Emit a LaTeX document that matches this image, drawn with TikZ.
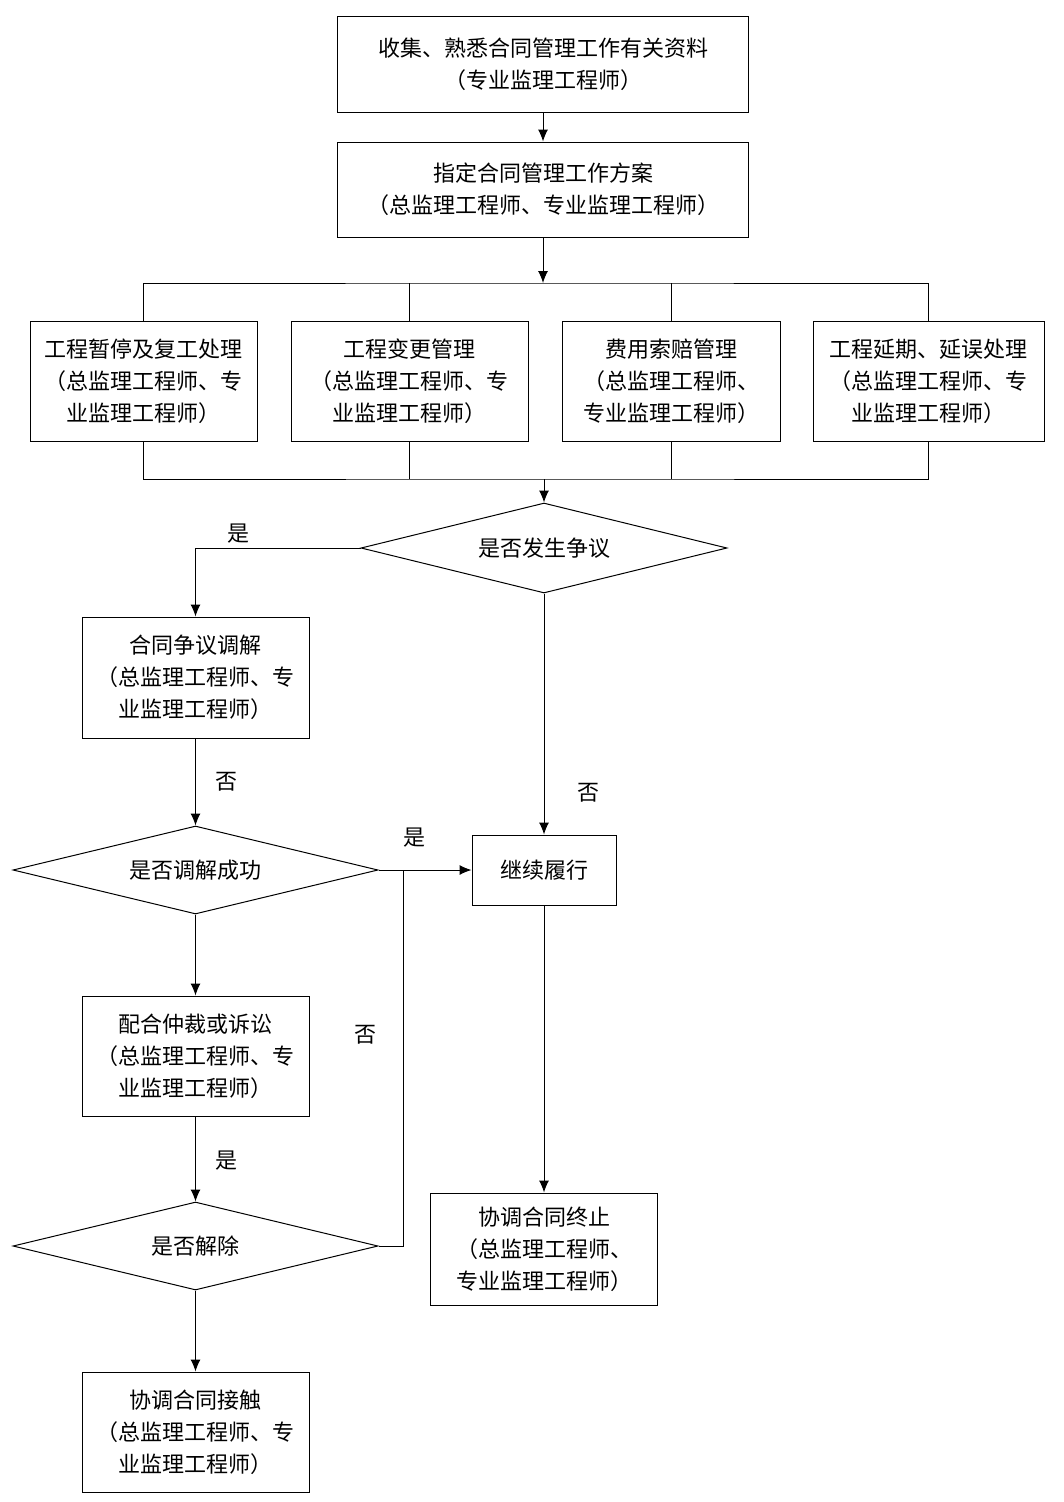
\documentclass[tikz,border=0pt]{standalone}
\usepackage{fontspec}
\newfontfamily\cjk{Noto Sans CJK SC}
\usepackage{tikz}
\usetikzlibrary{shapes, arrows.meta, positioning, calc}
\tikzstyle{block} = [draw, fill=white, rectangle, align=center, inner sep=0pt, minimum width=227pt, minimum height=120pt]
\tikzstyle{decision} = [draw, diamond, aspect=4, inner sep=0pt, minimum width=365pt, minimum height=88pt]
\tikzstyle{tag} = [inner sep=1pt]
\tikzstyle{junction} = [coordinate]

\begin{document}
\begin{tikzpicture}[auto, x=1pt, y=-1pt, line width=1pt, >={Latex[length=12pt,width=10pt]}, font=\cjk\fontsize{22}{32}\selectfont]
	\useasboundingbox (0,0) rectangle (1064,1502);
	% upper part
	\node [block, minimum width=411pt, minimum height=96pt] (collect) at (543,64) {收集、熟悉合同管理工作有关资料\\（专业监理工程师）};
	\node [block, minimum width=411pt, minimum height=95pt] (plan) at (543,189.5) {指定合同管理工作方案\\（总监理工程师、专业监理工程师）};
	\node [junction] (split) at (543,283) {};
	\node [junction] (merge) at (544,479) {};
	
	\node [block] (pause) at (143.5,381) {工程暂停及复工处理\\（总监理工程师、专\\业监理工程师）};
	\node [block, minimum width=237pt] (change) at (409.5,381) {工程变更管理\\（总监理工程师、专\\业监理工程师）};
	\node [block, minimum width=218pt] (claim) at (671,381) {费用索赔管理\\（总监理工程师、\\专业监理工程师）};
	\node [block, minimum width=231pt] (delay) at (928.5,381) {工程延期、延误处理\\（总监理工程师、专\\业监理工程师）};
	
	% dispute handling
	\node [decision, minimum width=366pt, minimum height=90pt] (dispute) at (544,548) {是否发生争议};
	\node [block, minimum height=121pt] (mediate) at (195.5,677.5) {合同争议调解\\（总监理工程师、专\\业监理工程师）};
	\node [block, minimum width=144pt, minimum height=70pt] (goon) at (544,870) {继续履行};
	\node [decision] (success) at (195.5,870) {是否调解成功};
	\node [block] (arbitrate) at (195.5,1056) {配合仲裁或诉讼\\（总监理工程师、专\\业监理工程师）};
	\node [decision] (release) at (195.5,1246) {是否解除};
	\node [block] (dissolve) at (195.5,1432) {协调合同接触\\（总监理工程师、专\\业监理工程师）};
	\node [block, minimum height=112pt] (terminate) at (544,1249) {协调合同终止\\（总监理工程师、\\专业监理工程师）};
	\node [junction] (rejoin) at (403,870) {};
	
	\node [tag] (yes1) at (238,534) {是};
	\node [tag] (no1) at (588,793) {否};
	\node [tag] (no2) at (226,782) {否};
	\node [tag] (yes2) at (414,838) {是};
	\node [tag] (no3) at (365,1035) {否};
	\node [tag] (yes3) at (226,1161) {是};
	
	\draw[->] (collect) -- (plan);
	\draw[->] (plan) -- (split);
	\draw (pause.north) |- (split) -| (delay.north);
	\draw (change.north) -- (change.north |- split);
	\draw (claim.north) -- (claim.north |- split);
	\draw (pause.south) |- (merge) -| (delay.south);
	\draw (change.south) -- (change.south |- merge);
	\draw (claim.south) -- (claim.south |- merge);
	\draw[->] (merge) -- (dispute.north);
	
	\draw[->] (dispute.west) -| (mediate.north);
	\draw[->] (dispute.south) -- (goon.north);
	\draw[->] (mediate) -- (success.north);
	\draw[->] (success.east) -- (goon.west);
	\draw[->] (success.south) -- (arbitrate.north);
	\draw[->] (arbitrate) -- (release.north);
	\draw (release.east) -| (rejoin);
	\draw[->] (release.south) -- (dissolve.north);
	\draw[->] (goon) -- (terminate);
\end{tikzpicture}
\end{document}
